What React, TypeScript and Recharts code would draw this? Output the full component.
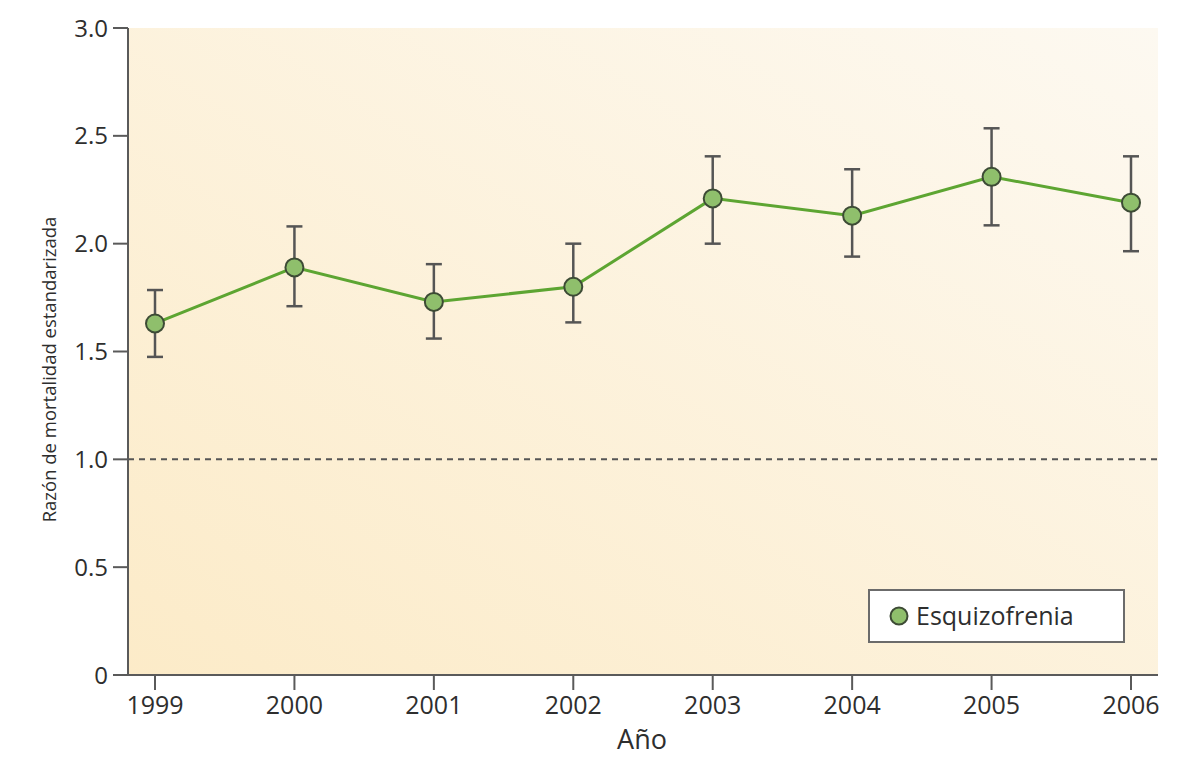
import {
  LineChart,
  Line,
  XAxis,
  YAxis,
  CartesianGrid,
  ReferenceLine,
  ErrorBar,
  Label,
} from 'recharts'

const years = ['1999', '2000', '2001', '2002', '2003', '2004', '2005', '2006']
const smr = [1.63, 1.89, 1.73, 1.8, 2.21, 2.13, 2.31, 2.19]
const ciLow = [1.475, 1.71, 1.56, 1.635, 2.0, 1.94, 2.085, 1.965]
const ciHigh = [1.785, 2.08, 1.905, 2.0, 2.405, 2.345, 2.535, 2.405]
const yTicks = [0, 0.5, 1, 1.5, 2, 2.5, 3]

const data = years.map((year, i) => ({
  year,
  smr: smr[i],
  ci: [smr[i] - ciLow[i], ciHigh[i] - smr[i]],
}))

const FONT = '"Open Sans", "Noto Sans", sans-serif'
const AXIS = '#5a5a5a'
const TEXT = '#2e2e2e'

// legend box sits inside the plot, bottom right
function LegendBox() {
  return (
    <div
      style={{
        position: 'absolute',
        left: 868,
        top: 589,
        width: 253,
        height: 50,
        border: '2px solid #6b6b6b',
        background: '#fff',
        display: 'flex',
        alignItems: 'center',
        fontFamily: FONT,
        fontSize: 25,
        color: TEXT,
      }}
    >
      <svg width={40} height={24}>
        <circle cx={29} cy={12} r={8.5} fill="#8fbf6c" stroke="#3d4b35" strokeWidth={2} />
      </svg>
      <span style={{ marginLeft: 6, marginTop: -2 }}>Esquizofrenia</span>
    </div>
  )
}

export default function App() {
  return (
    <div style={{ position: 'absolute', left: 0, top: 0, width: 1180, height: 757 }}>
      <LineChart
        width={1180}
        height={757}
        data={data}
        margin={{ top: 28, right: 22, bottom: 0, left: 0 }}
      >
        <defs>
          <linearGradient id="plotBg" x1="0" y1="1" x2="1" y2="0">
            <stop offset="0%" stopColor="#fcebc8" />
            <stop offset="100%" stopColor="#fdf9f1" />
          </linearGradient>
        </defs>
        <CartesianGrid horizontal={false} vertical={false} fill="url(#plotBg)" />
        <XAxis
          dataKey="year"
          height={82}
          padding={{ left: 27, right: 27 }}
          stroke={AXIS}
          strokeWidth={2}
          tickSize={15}
          tickMargin={6}
          tick={{ fontSize: 25, fill: TEXT, fontFamily: FONT }}
        >
          <Label
            content={({ viewBox }: any) => (
              <text
                x={viewBox.x + viewBox.width / 2 - 1}
                y={viewBox.y + 74}
                textAnchor="middle"
                style={{ fontSize: 27, fill: TEXT, fontFamily: FONT }}
              >
                Año
              </text>
            )}
          />
        </XAxis>
        <YAxis
          domain={[0, 3]}
          ticks={yTicks}
          width={128}
          stroke={AXIS}
          strokeWidth={2}
          tickSize={15}
          tickMargin={5}
          tickFormatter={(v: number) => (v === 0 ? '0' : v.toFixed(1))}
          tick={{ fontSize: 24, fill: TEXT, fontFamily: FONT }}
        >
          <Label
            content={({ viewBox }: any) => {
              const cx = 51
              const cy = viewBox.y + viewBox.height / 2 + 18
              return (
                <text
                  x={cx}
                  y={cy}
                  transform={`rotate(-90 ${cx} ${cy})`}
                  textAnchor="middle"
                  dominantBaseline="middle"
                  style={{ fontSize: 18.5, fill: TEXT, fontFamily: FONT }}
                >
                  Razón de mortalidad estandarizada
                </text>
              )
            }}
          />
        </YAxis>
        <ReferenceLine y={1} stroke="#555" strokeWidth={2} strokeDasharray="6 5" />
        <Line
          type="linear"
          dataKey="smr"
          stroke="#5da532"
          strokeWidth={3}
          isAnimationActive={false}
          dot={{ r: 9, fill: '#8fbf6c', stroke: '#3d4b35', strokeWidth: 2 }}
          activeDot={false}
        >
          <ErrorBar
            dataKey="ci"
            direction="y"
            width={8}
            stroke="#555"
            strokeWidth={2.5}
            isAnimationActive={false}
          />
        </Line>
      </LineChart>
      <LegendBox />
    </div>
  )
}
